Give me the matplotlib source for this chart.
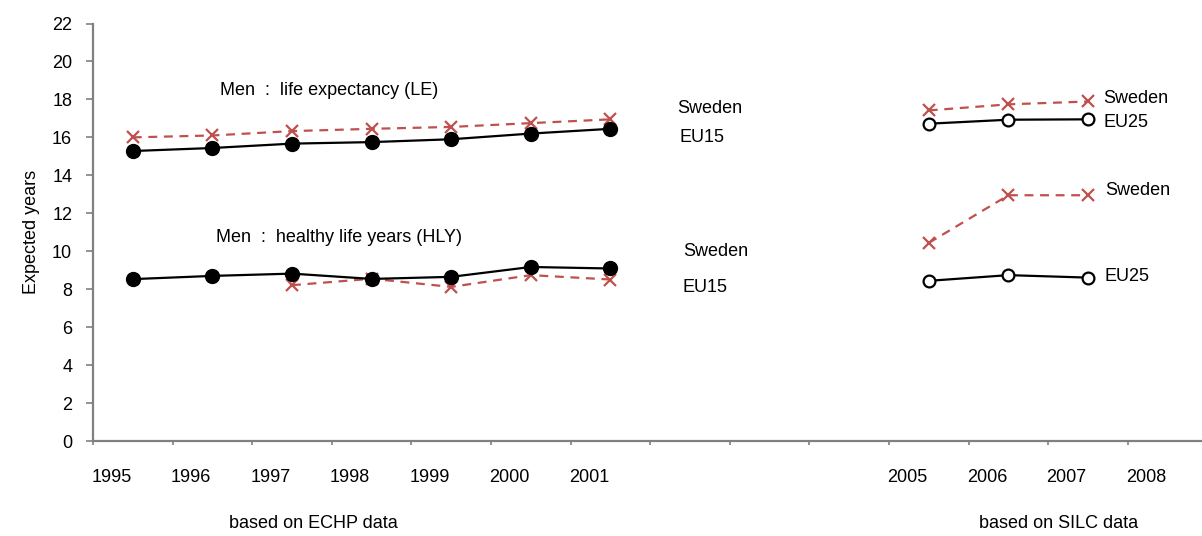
import numpy as np
import matplotlib.pyplot as plt

plt.rcParams['font.family'] = ['Liberation Sans', 'DejaVu Sans']

# category axis: 1995 .. 2008, 2002-2004 have no label
years = ['1995', '1996', '1997', '1998', '1999', '2000', '2001',
         '', '', '', '2005', '2006', '2007', '2008']

echp_idx = [0, 1, 2, 3, 4, 5, 6]
silc_idx = [10, 11, 12]

le_sweden_echp = [16.0, 16.1, 16.33, 16.45, 16.55, 16.75, 16.95]
le_eu15 = [15.28, 15.44, 15.67, 15.75, 15.9, 16.2, 16.45]
hly_sweden_echp = [np.nan, np.nan, 8.21, 8.55, 8.12, 8.74, 8.51]
hly_eu15 = [8.53, 8.7, 8.82, 8.54, 8.65, 9.17, 9.09]

le_sweden_silc = [17.42, 17.74, 17.89]
le_eu25 = [16.72, 16.93, 16.95]
hly_sweden_silc = [10.44, 12.95, 12.95]
hly_eu25 = [8.44, 8.74, 8.61]

red = '#C0504D'
grey = '#808080'

fig = plt.figure(figsize=(12.02, 5.36), dpi=100)
ax = fig.add_axes([93 / 1202, 95 / 536, 1 - 93 / 1202, 417.5 / 536])

x_echp = np.array(echp_idx) + 0.5
x_silc = np.array(silc_idx) + 0.5

# ECHP period
ax.plot(x_echp, le_sweden_echp, color=red, ls=(0, (4, 3)), lw=1.6,
        marker='x', ms=8, mew=1.6)
ax.plot(x_echp, le_eu15, color='black', lw=1.6, marker='o', ms=10)
ax.plot(x_echp, hly_sweden_echp, color=red, ls=(0, (4, 3)), lw=1.6,
        marker='x', ms=8, mew=1.6)
ax.plot(x_echp, hly_eu15, color='black', lw=1.6, marker='o', ms=10)

# SILC period
ax.plot(x_silc, le_sweden_silc, color=red, ls=(0, (4, 3)), lw=1.6,
        marker='x', ms=8, mew=1.6)
ax.plot(x_silc, le_eu25, color='black', lw=1.6, marker='o', ms=8.5,
        mfc='white', mew=1.6)
ax.plot(x_silc, hly_sweden_silc, color=red, ls=(0, (4, 3)), lw=1.6,
        marker='x', ms=8, mew=1.6)
ax.plot(x_silc, hly_eu25, color='black', lw=1.6, marker='o', ms=8.5,
        mfc='white', mew=1.6)

ax.set_xlim(0, (1202 - 93) / 79.6)
ax.set_ylim(0, 22)
ax.set_yticks(range(0, 23, 2))
ax.set_xticks(range(len(years)))
ax.set_xticklabels([])
ax.set_xticks(np.arange(len(years)) + 0.23, minor=True)
ax.set_xticklabels(years, minor=True)

fs = 13
ax.tick_params(axis='y', length=5, width=1.2, color=grey, pad=10, labelsize=fs)
ax.tick_params(axis='x', which='major', length=3, width=1.2, color=grey, direction='out')
ax.tick_params(axis='x', which='minor', length=0, pad=20, labelsize=fs)

for s in ['top', 'right']:
    ax.spines[s].set_visible(False)
for s in ['left', 'bottom']:
    ax.spines[s].set_color(grey)
    ax.spines[s].set_linewidth(1.6)

ax.set_ylabel('Expected years', fontsize=fs, labelpad=9)

ax.text(1.6, 18.47, 'Men  :  life expectancy (LE)', fontsize=fs, va='center')
ax.text(1.55, 10.74, 'Men  :  healthy life years (HLY)', fontsize=fs, va='center')
ax.text(7.34, 17.5, 'Sweden', fontsize=fs, va='center')
ax.text(7.37, 16.0, 'EU15', fontsize=fs, va='center')
ax.text(7.41, 10.0, 'Sweden', fontsize=fs, va='center')
ax.text(7.41, 8.1, 'EU15', fontsize=fs, va='center')
ax.text(12.69, 18.05, 'Sweden', fontsize=fs, va='center')
ax.text(12.7, 16.8, 'EU25', fontsize=fs, va='center')
ax.text(12.71, 13.2, 'Sweden', fontsize=fs, va='center')
ax.text(12.71, 8.68, 'EU25', fontsize=fs, va='center')

fig.text(313 / 1202, 1 - 524 / 536, 'based on ECHP data', fontsize=fs,
         ha='center', va='center')
fig.text(1059 / 1202, 1 - 524 / 536, 'based on SILC data', fontsize=fs,
         ha='center', va='center')

plt.savefig('out.png', dpi=100)
plt.close()
